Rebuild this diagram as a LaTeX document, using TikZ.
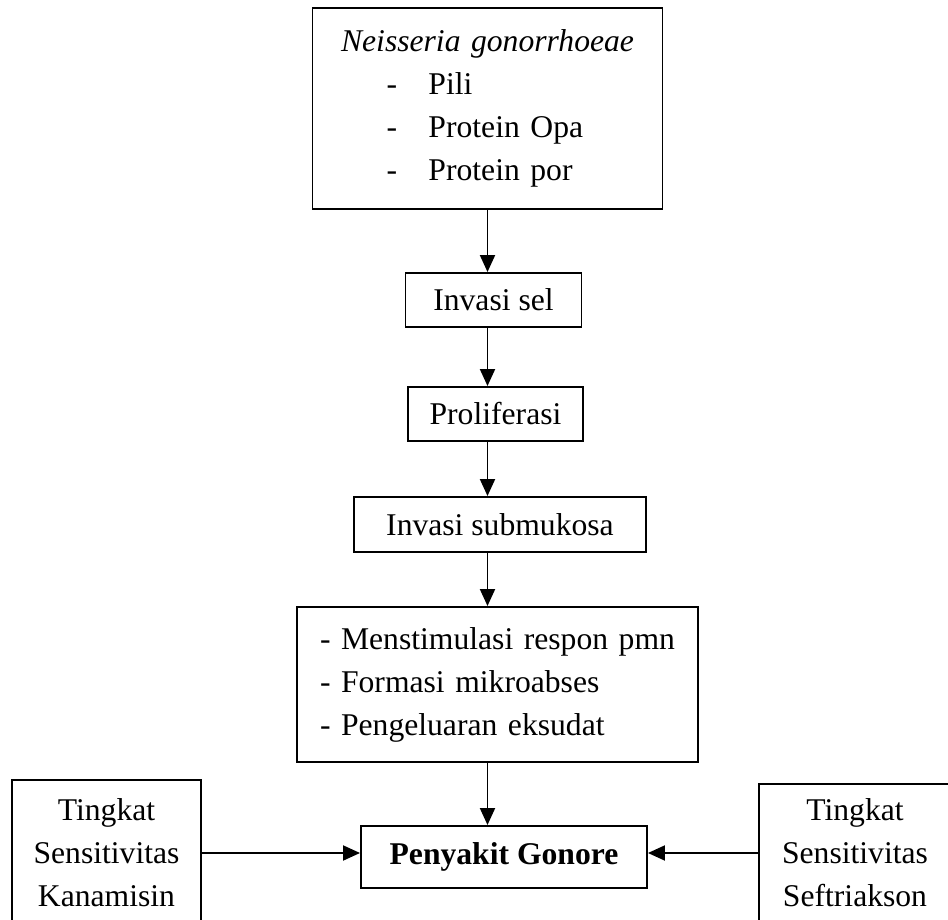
\documentclass[tikz,border=0pt]{standalone}
\usepackage{fontspec}
\setmainfont{Liberation Serif}
\usetikzlibrary{arrows.meta}

\begin{document}
\begin{tikzpicture}[>={Triangle[length=0.34cm,width=0.3cm]}, line width=1.1pt,
	box/.style={draw, inner sep=0pt, align=center, font=\fontsize{18}{24.5}\selectfont}]

	\useasboundingbox (0,0) rectangle (18.96,18.38);

	% bacteria and its factors
	\node[box, text width=7cm, minimum height=4.02cm, align=left] (bact) at (9.75,16.21)
	{\makebox[7cm]{\itshape Neisseria gonorrhoeae}\\
	\hspace*{1.48cm}\makebox[0.84cm][l]{-}Pili\\
	\hspace*{1.48cm}\makebox[0.84cm][l]{-}Protein Opa\\
	\hspace*{1.48cm}\makebox[0.84cm][l]{-}Protein por};

	% steps
	\node[box, minimum width=3.52cm, minimum height=1.08cm] (sel) at (9.87,12.38) {Invasi sel};
	\node[box, minimum width=3.5cm, minimum height=1.08cm] (prol) at (9.91,10.10) {Proliferasi};
	\node[box, minimum width=5.84cm, minimum height=1.1cm] (submu) at (10.0,7.89) {Invasi submukosa};

	\node[box, text width=7.1cm, inner xsep=0.46cm, minimum height=3.1cm, align=left] (resp) at (9.95,4.69)
	{- Menstimulasi respon pmn\\
	- Formasi mikroabses\\
	- Pengeluaran eksudat};

	% disease
	\node[box, minimum width=5.72cm, minimum height=1.24cm, font=\fontsize{18}{24.5}\selectfont\bfseries] (gon) at (10.08,1.24) {Penyakit Gonore};

	% sensitivity
	\node[box, minimum width=3.78cm, minimum height=2.92cm] (kana) at (2.13,1.32) {Tingkat\\ Sensitivitas\\ Kanamisin};
	\node[box, minimum width=3.84cm, minimum height=2.76cm] (seft) at (17.1,1.32) {Tingkat\\ Sensitivitas\\ Seftriakson};

	% arrows down
	\draw[->] (bact.south) -- (bact.south |- sel.north);
	\draw[->] (bact.south |- sel.south) -- (bact.south |- prol.north);
	\draw[->] (bact.south |- prol.south) -- (bact.south |- submu.north);
	\draw[->] (bact.south |- submu.south) -- (bact.south |- resp.north);
	\draw[->] (bact.south |- resp.south) -- (bact.south |- gon.north);

	% arrows from the sides
	\draw[->] (kana.east) -- (kana.east -| gon.west);
	\draw[->] (seft.west) -- (seft.west -| gon.east);

\end{tikzpicture}
\end{document}
